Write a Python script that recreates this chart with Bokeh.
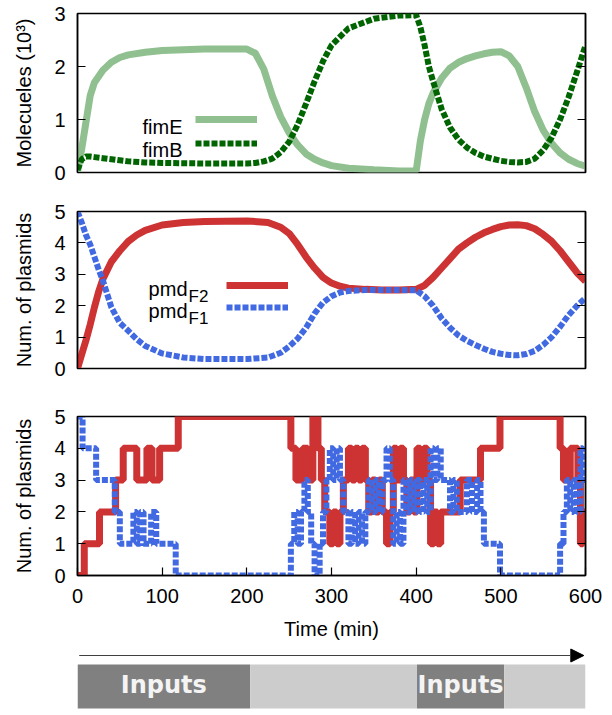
from bokeh.plotting import figure
from bokeh.layouts import column
from bokeh.models import (Range1d, LinearAxis, FixedTicker, Legend, LegendItem,
                          Label, Arrow, NormalHead)
from bokeh.core.properties import value
from bokeh.embed import file_html
from bokeh.resources import INLINE

FONT = "Liberation Sans"

# ---------------- data ----------------
# Panel 1: molecules (x10^3)
t_mol = [0, 5, 10, 15, 20, 30, 40, 50, 60, 80, 100, 150, 200, 210, 220, 230, 240,
         250, 260, 270, 280, 290, 300, 320, 350, 380, 400, 405, 410, 415, 420, 430,
         440, 450, 460, 470, 480, 490, 500, 510, 520, 530, 540, 550, 560, 570, 580,
         590, 600]
fimE = [0.0, 0.45, 0.95, 1.45, 1.7, 1.93, 2.08, 2.17, 2.22, 2.27, 2.30, 2.33, 2.33,
        2.25, 1.95, 1.45, 1.05, 0.75, 0.52, 0.35, 0.25, 0.18, 0.13, 0.08, 0.05, 0.03,
        0.03, 0.6, 1.0, 1.3, 1.5, 1.78, 1.97, 2.08, 2.15, 2.2, 2.24, 2.27, 2.28, 2.2,
        2.0, 1.6, 1.15, 0.8, 0.55, 0.37, 0.25, 0.17, 0.12]
fimB = [0.05, 0.25, 0.3, 0.3, 0.29, 0.27, 0.25, 0.23, 0.21, 0.19, 0.18, 0.17, 0.17,
        0.18, 0.21, 0.26, 0.38, 0.58, 0.9, 1.3, 1.72, 2.1, 2.4, 2.72, 2.9, 2.96, 2.97,
        2.74, 2.4, 2.0, 1.72, 1.2, 0.85, 0.62, 0.47, 0.37, 0.3, 0.26, 0.22, 0.2, 0.19,
        0.2, 0.26, 0.42, 0.66, 1.0, 1.42, 1.9, 2.4]

# Panel 2: mean number of plasmids
t_pmd = [0, 5, 10, 15, 20, 25, 30, 40, 50, 60, 70, 80, 100, 125, 150, 200, 225, 240,
         250, 260, 270, 280, 290, 300, 310, 320, 340, 360, 380, 400, 410, 420, 430,
         440, 450, 460, 470, 480, 490, 500, 510, 520, 530, 540, 550, 560, 570, 580,
         590, 600]
pmdF2 = [0.0, 0.45, 0.9, 1.4, 1.95, 2.45, 2.85, 3.4, 3.75, 4.05, 4.25, 4.4, 4.57,
         4.65, 4.68, 4.7, 4.65, 4.5, 4.3, 3.95, 3.55, 3.2, 2.9, 2.72, 2.62, 2.56, 2.52,
         2.5, 2.5, 2.52, 2.65, 2.9, 3.2, 3.5, 3.8, 4.0, 4.18, 4.32, 4.43, 4.52, 4.57,
         4.58, 4.55, 4.45, 4.27, 4.05, 3.75, 3.4, 3.05, 2.78]
pmdF1 = [5.0, 4.65, 4.25, 3.95, 3.55, 3.15, 2.8, 1.95, 1.45, 1.2, 0.93, 0.72, 0.48,
         0.35, 0.3, 0.3, 0.35, 0.5, 0.7, 0.95, 1.3, 1.75, 2.1, 2.3, 2.42, 2.47, 2.5,
         2.5, 2.5, 2.49, 2.3, 2.0, 1.6, 1.3, 1.05, 0.88, 0.75, 0.63, 0.53, 0.47, 0.43,
         0.42, 0.46, 0.56, 0.75, 1.0, 1.33, 1.7, 2.0, 2.25]

# Panel 3: single-cell stochastic plasmid counts (step changes)
red_t = [0, 8, 26, 45, 54, 70, 82, 88, 97, 119, 252, 258, 266, 272, 278, 284, 288,
         292, 298, 302, 306, 310, 314, 320, 324, 328, 332, 336, 340, 344, 348, 352,
         356, 360, 365, 369, 373, 377, 381, 385, 389, 393, 397, 401, 405, 409, 413,
         417, 421, 425, 429, 452, 476, 499, 570, 574, 582, 591, 594, 597, 600]
red_v = [0, 1, 2, 3, 4, 3, 4, 3, 4, 5, 4, 3, 4, 3, 5, 4, 3, 2, 1, 2, 1, 2, 3, 4, 3, 4,
         3, 4, 3, 2, 3, 2, 3, 2, 1, 2, 4, 3, 4, 3, 2, 3, 2, 4, 3, 4, 3, 1, 2, 1, 2, 3,
         4, 5, 4, 3, 4, 3, 1, 2, 2]
blue_t = [0, 6, 22, 44, 50, 66, 70, 74, 78, 87, 93, 116, 252, 256, 260, 264, 268, 272,
          276, 280, 286, 290, 294, 298, 302, 306, 310, 314, 320, 324, 328, 332, 336,
          340, 344, 348, 352, 356, 360, 365, 369, 373, 377, 381, 385, 389, 393, 397,
          401, 405, 409, 413, 417, 421, 425, 429, 440, 444, 448, 460, 466, 472, 476,
          480, 499, 570, 574, 578, 582, 586, 590, 594, 597, 600]
blue_v = [5, 4, 3, 2, 1, 2, 1, 2, 1, 2, 1, 0, 1, 2, 1, 2, 3, 2, 1, 0, 1, 2, 3, 4, 3, 4,
          3, 2, 1, 2, 1, 2, 1, 2, 3, 2, 3, 2, 3, 4, 3, 1, 2, 1, 3, 2, 3, 2, 3, 2, 3, 2,
          4, 3, 4, 3, 2, 3, 2, 3, 2, 3, 2, 1, 0, 1, 2, 3, 2, 3, 2, 4, 3, 3]

x_ticks = [0, 100, 200, 300, 400, 500, 600]
mol_ticks = [0, 1, 2, 3]
pmd_ticks = [0, 1, 2, 3, 4, 5]

# input schedule bar (minutes)
phase_edges = [0, 204, 401, 504, 600]
phase_inputs = [True, False, True, False]
phase_text = "Inputs"

C_FIME = "#90c090"
C_FIMB = "#006400"
C_RED = "#cd3333"
C_BLUE = "#4169e1"

W = 612
LEFT = 77
RIGHT = 27


def style_text_axis(ax, tick_standoff, label_standoff):
    ax.axis_line_color = "black"
    ax.axis_line_width = 1.5
    ax.major_tick_in = 8
    ax.major_tick_out = 0
    ax.major_tick_line_width = 1.2
    ax.minor_tick_line_color = None
    ax.major_label_text_font = FONT
    ax.major_label_text_font_size = "20px"
    ax.major_label_text_color = "black"
    ax.major_label_standoff = tick_standoff
    ax.axis_label_text_font = FONT
    ax.axis_label_text_font_size = "20px"
    ax.axis_label_text_font_style = "normal"
    ax.axis_label_text_color = "black"
    ax.axis_label_standoff = label_standoff


def make_panel(height, top, bottom, yr, yticks, ylabel, xaxis=False):
    p = figure(width=W, height=height, x_range=Range1d(0, 600), y_range=Range1d(*yr),
               min_border_left=LEFT, min_border_right=RIGHT, min_border_top=top,
               min_border_bottom=bottom, toolbar_location=None, output_backend="svg",
               x_axis_location="below" if xaxis else None, y_axis_location="left")
    p.grid.visible = False
    p.outline_line_color = "black"
    p.outline_line_width = 1.5
    ya = p.yaxis[0]
    ya.ticker = FixedTicker(ticks=yticks)
    ya.axis_label = ylabel
    style_text_axis(ya, 12, 16)
    ra = LinearAxis(ticker=FixedTicker(ticks=yticks), major_label_text_color=None,
                    major_tick_in=8, major_tick_out=0, minor_tick_line_color=None,
                    axis_line_color="black", axis_line_width=1.5,
                    major_tick_line_width=1.2,
                    major_label_standoff=2, major_label_text_font_size="10px")
    p.add_layout(ra, "right")
    if xaxis:
        xa = p.xaxis[0]
        xa.ticker = FixedTicker(ticks=x_ticks)
        xa.axis_label = "Time (min)"
        style_text_axis(xa, 13, 12)
    return p


def add_key(p, renderers, loc, spacing):
    lg = Legend(items=[LegendItem(label="", renderers=[r]) for r in renderers],
                location=loc, orientation="vertical", glyph_width=62, glyph_height=20,
                label_width=0, label_height=20, label_standoff=0, padding=0, margin=0,
                spacing=spacing, border_line_color=None, background_fill_alpha=0,
                label_text_font_size="10px")
    p.add_layout(lg, "center")


def add_text(p, x, y, text, size="20px", align="right"):
    p.add_layout(Label(x=x, y=y, x_units="screen", y_units="screen", text=text,
                       text_font=FONT, text_font_size=size, text_color="black",
                       text_align=align, text_baseline="alphabetic"))


# ---------------- panel 1 ----------------
p1 = make_panel(191, 13, 19, (0, 3), mol_ticks, "Molecueles (10³)")
rE = p1.line(t_mol, fimE, line_color=C_FIME, line_width=7)
rB = p1.line(t_mol, fimB, line_color=C_FIMB, line_width=6, line_dash="6 2")
add_key(p1, [rE, rB], (118, 19), 4)
add_text(p1, 105, 46, "fimE")
add_text(p1, 105, 23, "fimB")

# ---------------- panel 2 ----------------
p2 = make_panel(201, 20, 24, (0, 5), pmd_ticks, "Num. of plasmids")
rF2 = p2.line(t_pmd, pmdF2, line_color=C_RED, line_width=7)
rF1 = p2.line(t_pmd, pmdF1, line_color=C_BLUE, line_width=6, line_dash="6 2")
add_key(p2, [rF2, rF1], (149, 51), 2)
add_text(p2, 110, 80, "pmd")
add_text(p2, 111, 72, "F2", size="17px", align="left")
add_text(p2, 110, 58, "pmd")
add_text(p2, 111, 50, "F1", size="17px", align="left")

# ---------------- panel 3 ----------------
p3 = make_panel(255, 24, 72, (0, 5), pmd_ticks, "Num. of plasmids", xaxis=True)
p3.step(red_t, red_v, mode="after", line_color=C_RED, line_width=7)
p3.step(blue_t, blue_v, mode="after", line_color=C_BLUE, line_width=6, line_dash="6 2")

# ---------------- input schedule bar ----------------
p4 = figure(width=W, height=68, x_range=Range1d(0, 600), y_range=Range1d(0, 68),
            min_border_left=73, min_border_right=RIGHT, min_border_top=0,
            min_border_bottom=0, toolbar_location=None, output_backend="svg",
            x_axis_location=None, y_axis_location=None)
p4.grid.visible = False
p4.outline_line_color = None
lefts = phase_edges[:-1]
rights = phase_edges[1:]
cols = ["#808080" if f else "#cccccc" for f in phase_inputs]
p4.quad(left=lefts, right=rights, bottom=7, top=51, fill_color=cols, line_color=None)
mids = [(a + b) / 2 for a, b, f in zip(lefts, rights, phase_inputs) if f]
p4.text(x=mids, y=[31] * len(mids), text=[phase_text] * len(mids),
        text_font=value("DejaVu Sans"), text_font_style="bold", text_font_size="24px",
        text_color="#f4f4f4", text_align="center", text_baseline="middle")
p4.add_layout(Arrow(end=NormalHead(size=13, fill_color="black", line_color="black"),
                    x_start=phase_edges[0] + 2, y_start=60, x_end=phase_edges[-1] - 2,
                    y_end=60, line_color="#404040", line_width=1.2))

layout = column(p1, p2, p3, p4, spacing=0)
open("out.html", "w").write(file_html(layout, INLINE))
